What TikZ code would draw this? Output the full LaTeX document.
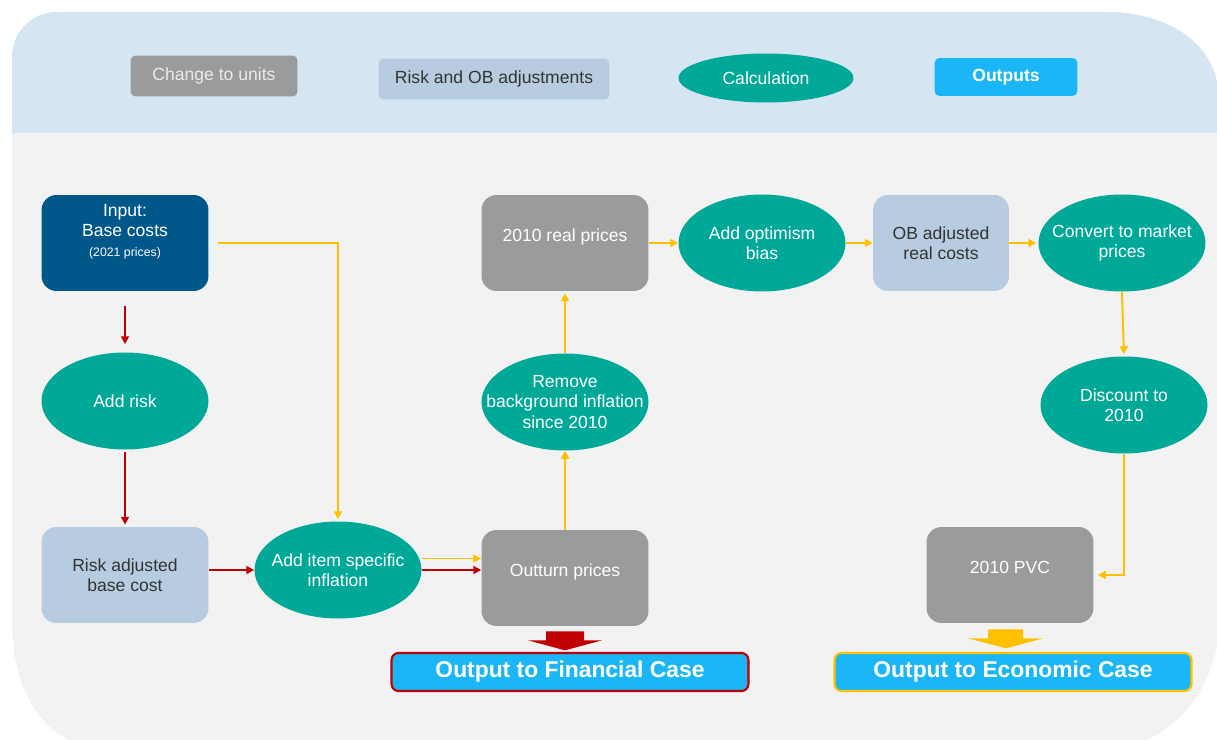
\documentclass[tikz,border=0pt]{standalone}
\usepackage{fontspec}
\setmainfont{Liberation Sans}
\usetikzlibrary{shapes.geometric,arrows.meta}

\definecolor{panelgray}{HTML}{F2F2F2}
\definecolor{bandblue}{HTML}{D5E5F1}
\definecolor{unitgray}{HTML}{9A9B9D}
\definecolor{adjblue}{HTML}{B7CCE0}
\definecolor{adjtext}{HTML}{333333}
\definecolor{calcteal}{HTML}{00A898}
\definecolor{inputblue}{HTML}{00588A}
\definecolor{outblue}{HTML}{1BB6F6}
\definecolor{arrred}{HTML}{C00000}
\definecolor{arryellow}{HTML}{FFC000}

% outline of the panel behind the diagram
\newcommand\panelpath{(12,57) .. controls (12,32) and (32,12) .. (57,12) -- (1105,12)
  .. controls (1170,12) and (1219,45) .. (1219,100) -- (1219,620)
  .. controls (1219,690) and (1170,752) .. (1090,752) -- (120,752)
  .. controls (50,752) and (12,700) .. (12,620) -- cycle}

\begin{document}
\begin{tikzpicture}[x=0.02cm, y=-0.02cm,
    box/.style={rectangle, rounded corners=0.3cm, minimum width=3.34cm, minimum height=1.92cm,
      align=center, font=\fontsize{10}{11.5}\selectfont},
    graybox/.style={box, fill=unitgray, text=white, text depth=0.31cm},
    adjbox/.style={box, fill=adjblue, text=adjtext},
    inputbox/.style={box, fill=inputblue, text=white, text depth=0.5cm},
    calctext/.style={text=white, align=center, font=\fontsize{10}{11.5}\selectfont},
    calcnode/.style={ellipse, fill=calcteal, minimum width=3.34cm, minimum height=1.94cm,
      inner sep=0pt, label={[calctext]center:#1}},
    legendbox/.style={rectangle, rounded corners=0.1cm, minimum height=0.82cm,
      font=\fontsize{10}{12}\selectfont},
    outbox/.style={rectangle, rounded corners=0.14cm, fill=outblue, text=white,
      minimum width=7.14cm, minimum height=0.76cm, line width=1.2pt,
      font=\bfseries\fontsize{13}{15}\selectfont},
    redarr/.style={draw=arrred, line width=1.1pt, -{Triangle[length=4.5pt,width=4.5pt]}},
    yelarr/.style={draw=arryellow, line width=1.1pt, -{Triangle[length=4.5pt,width=4.5pt]}},
    bigarr/.style={fill=#1}
  ]
  \useasboundingbox (0,0) rectangle (1217,740);
  \fill[white] (0,0) rectangle (1217,740);

  % background panel with the legend band
  \begin{scope}
    \clip (0,0) rectangle (1217,740);
    \fill[panelgray] \panelpath;
    \clip \panelpath;
    \fill[bandblue] (0,0) rectangle (1217,133);
  \end{scope}

  % legend
  \node[legendbox, fill=unitgray, text=white!92!black, minimum width=3.34cm] (lunit) at (214,76) {Change to units};
  \node[legendbox, fill=adjblue, text=adjtext, minimum width=4.62cm] (ladj) at (494,79) {Risk and OB adjustments};
  \node[ellipse, fill=calcteal, text=white, minimum width=3.5cm, minimum height=0.98cm,
    inner sep=0pt, font=\fontsize{10}{12}\selectfont] (lcalc) at (766,78) {Calculation};
  \node[legendbox, fill=outblue, text=white, minimum width=2.86cm, minimum height=0.76cm,
    font=\bfseries\fontsize{10}{12}\selectfont] (lout) at (1006,77) {Outputs};

  % flow
  \node[inputbox] (inp) at (125,243) {Input:\\Base costs\\{\fontsize{7}{8}\selectfont (2021 prices)}};
  \node[calcnode={Add risk}] (risk) at (125,401) {};
  \node[adjbox] (radj) at (125,575) {Risk adjusted\\base cost};
  \node[calcnode={Add item specific\\inflation}] (inf) at (338,570) {};
  \node[graybox] (out) at (565,578) {Outturn prices};
  \node[calcnode={Remove\\background inflation\\since 2010}] (rem) at (565,402) {};
  \node[graybox] (real) at (565,243) {2010 real prices};
  \node[calcnode={Add optimism\\bias}] (opt) at (762,243) {};
  \node[adjbox, minimum width=2.72cm] (obc) at (941,243) {OB adjusted\\real costs};
  \node[calcnode={Convert to market\\prices}] (conv) at (1122,243) {};
  \node[calcnode={Discount to\\2010}] (disc) at (1124,405) {};
  \node[graybox] (pvc) at (1010,575) {2010 PVC};

  \node[outbox, draw=arrred] (fin) at (570,672) {Output to Financial Case};
  \node[outbox, draw=arryellow] (eco) at (1013,672) {Output to Economic Case};

  % connectors
  \draw[redarr, shorten <=0.3cm, shorten >=0.16cm] (inp.south) -- (risk.north);
  \draw[redarr, shorten <=0.04cm, shorten >=0.04cm] (risk.south) -- (radj.north);
  \draw[redarr] (radj.east |- inf.west) -- (inf.west);
  \draw[redarr] (inf.east) -- (inf.east -| out.west);
  \draw[yelarr, shorten >=0.04cm] ([xshift=0.18cm]inp.east) -| (inf.north);
  \draw[yelarr] ([yshift=0.23cm]inf.east) -- ([yshift=0.23cm]inf.east -| out.west);
  \draw[yelarr] (out.north) -- (rem.south);
  \draw[yelarr, shorten >=0.04cm] (rem.north) -- (real.south);
  \draw[yelarr] (real.east) -- (opt.west);
  \draw[yelarr] (opt.east) -- (obc.west);
  \draw[yelarr, shorten >=0.04cm] (obc.east) -- (conv.west);
  \draw[yelarr, shorten >=0.04cm] (conv.south) -- (disc.north);
  \draw[yelarr] (disc.south) |- ([xshift=0.08cm]pvc.east);

  % block arrows to the outputs
  \fill[bigarr=arrred] (out.south) ++(-19,5) -- ++(38,0) -- ++(0,9) -- ++(18,0)
    -- ++(-37,10) -- ++(-37,-10) -- ++(18,0) -- cycle;
  \fill[bigarr=arryellow] (pvc.south) ++(-22,6) -- ++(35,0) -- ++(0,9) -- ++(20,0)
    -- ++(-37,10) -- ++(-38,-10) -- ++(20,0) -- cycle;
\end{tikzpicture}
\end{document}
